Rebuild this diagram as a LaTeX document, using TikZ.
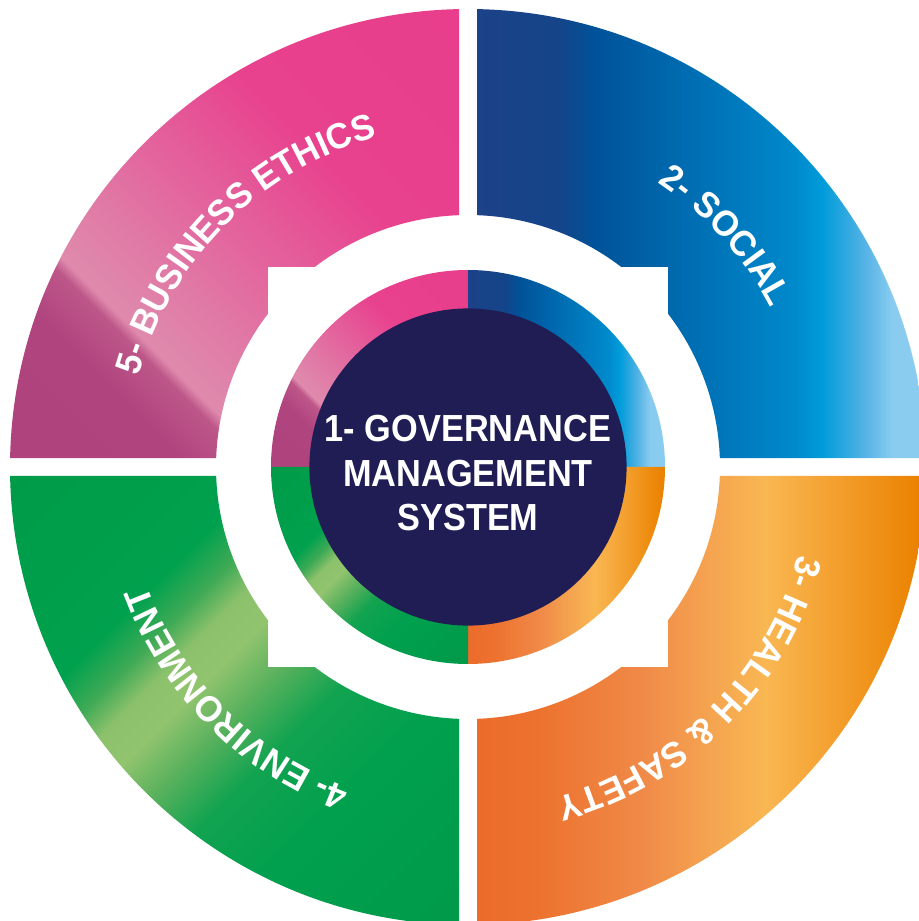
\documentclass[tikz,border=0pt]{standalone}
\usepackage{fontspec}
\setmainfont{Liberation Sans}
\newfontfamily\ringfam[FakeStretch=0.96]{Liberation Sans}
\newfontfamily\centfam[FakeStretch=0.91]{Liberation Sans}
\newcommand\rfont{\ringfam\bfseries\fontsize{10.24}{12}\selectfont}
\newcommand\cfont{\centfam\bfseries\fontsize{10.73}{12}\selectfont}
\usetikzlibrary{decorations.text}

\definecolor{navy}{HTML}{1F1D54}
% pink
\definecolor{pkA}{HTML}{AD417B}
\definecolor{pkB}{HTML}{B0447E}
\definecolor{pkC}{HTML}{BD5689}
\definecolor{pkD}{HTML}{DF8AAD}
\definecolor{pkE}{HTML}{E07BA6}
\definecolor{pkF}{HTML}{E45E9B}
\definecolor{pkG}{HTML}{E8418D}
\definecolor{pkH}{HTML}{E83C8A}
% blue
\definecolor{blA}{HTML}{1C4289}
\definecolor{blB}{HTML}{144489}
\definecolor{blC}{HTML}{005298}
\definecolor{blD}{HTML}{0070B5}
\definecolor{blE}{HTML}{008ACC}
\definecolor{blF}{HTML}{009CDA}
\definecolor{blG}{HTML}{52B2E4}
\definecolor{blH}{HTML}{8ACCF0}
% orange
\definecolor{orA}{HTML}{EC6B2B}
\definecolor{orB}{HTML}{ED722F}
\definecolor{orC}{HTML}{F08A48}
\definecolor{orD}{HTML}{F4A04F}
\definecolor{orE}{HTML}{F9B752}
\definecolor{orF}{HTML}{F4A131}
\definecolor{orG}{HTML}{EA8200}
% green
\definecolor{grA}{HTML}{009746}
\definecolor{grB}{HTML}{009D4A}
\definecolor{grC}{HTML}{00A14E}
\definecolor{grD}{HTML}{40AA56}
\definecolor{grE}{HTML}{8CC16C}
\definecolor{grEE}{HTML}{92C46E}
\definecolor{grF}{HTML}{5AB15D}
\definecolor{grG}{HTML}{12A350}
\definecolor{grH}{HTML}{00A04E}
\definecolor{grI}{HTML}{009446}

\pgfdeclarehorizontalshading{pinkg}{100bp}{color(0bp)=(pkA); color(25bp)=(pkA); color(39.08bp)=(pkB); color(41.7bp)=(pkC); color(42.36bp)=(pkD); color(45.63bp)=(pkE); color(51.09bp)=(pkF); color(56.55bp)=(pkG); color(75bp)=(pkH); color(100bp)=(pkH)}
\pgfdeclarehorizontalshading{blueg}{100bp}{color(0bp)=(blA); color(25bp)=(blA); color(34.24bp)=(blB); color(37.92bp)=(blC); color(49.83bp)=(blD); color(60.5bp)=(blE); color(63.5bp)=(blF); color(68bp)=(blG); color(71.3bp)=(blH); color(100bp)=(blH)}
\pgfdeclarehorizontalshading{orangeg}{100bp}{color(0bp)=(orA); color(25bp)=(orA); color(32bp)=(orB); color(43.5bp)=(orC); color(49.8bp)=(orD); color(57.1bp)=(orE); color(64.3bp)=(orF); color(74.2bp)=(orG); color(100bp)=(orG)}
\pgfdeclarehorizontalshading{greeng}{100bp}{color(0bp)=(grA); color(25bp)=(grA); color(36.35bp)=(grB); color(42.36bp)=(grC); color(44.54bp)=(grD); color(46.18bp)=(grE); color(48.09bp)=(grEE); color(50.55bp)=(grF); color(53.55bp)=(grG); color(58.19bp)=(grH); color(75bp)=(grI); color(100bp)=(grI)}

% outer quadrant (top right), other quadrants by mirroring
\def\qshape{(88.874:458) arc[start angle=88.874, end angle=1.126, radius=458] -- (2.047:252) arc[start angle=2.047, end angle=37.468, radius=252] -- (200,200) -- (52.532:252) arc[start angle=52.532, end angle=87.953, radius=252] -- cycle}
% inner ring quadrant (top right)
\def\rshape{(0,0) -- (197,0) arc[start angle=0, end angle=90, radius=197] -- cycle}

\tikzset{
  ctext/.style={text=white, font=\cfont, inner sep=0pt, anchor=base},
  ringtext/.style={decorate, decoration={text along path, text align=center, text={|\rfont\color{white}|#1}}}
}

\begin{document}
\begin{tikzpicture}[x=0.01cm, y=0.01cm]
\useasboundingbox (-468,-454) rectangle (451,467);
\fill[white] (-468,-454) rectangle (451,467);

% ---- outer quadrants ----
\begin{scope}
  \clip[xscale=-1] \qshape;
  \shade[shading=pinkg, shading angle=45] (-458,-458) rectangle (458,458);
\end{scope}
\begin{scope}
  \clip \qshape;
  \shade[shading=blueg] (9,0) rectangle (458,458);
\end{scope}
\begin{scope}
  \clip[yscale=-1] \qshape;
  \shade[shading=orangeg] (9,-458) rectangle (458,0);
\end{scope}
\begin{scope}
  \clip[scale=-1] \qshape;
  \shade[shading=greeng, shading angle=-45] (-458,-458) rectangle (458,458);
\end{scope}

% ---- inner ring ----
\begin{scope}
  \clip[xscale=-1] \rshape;
  \shade[shading=pinkg, shading angle=45] (-197,-197) rectangle (197,197);
\end{scope}
\begin{scope}
  \clip \rshape;
  \shade[shading=blueg] (0,0) rectangle (197,197);
\end{scope}
\begin{scope}
  \clip[yscale=-1] \rshape;
  \shade[shading=orangeg] (0,-197) rectangle (197,0);
\end{scope}
\begin{scope}
  \clip[scale=-1] \rshape;
  \shade[shading=greeng, shading angle=-45] (-197,-197) rectangle (197,197);
\end{scope}

% ---- centre ----
\node[circle, fill=navy, minimum size=3.17cm, inner sep=0pt] (core) at (0,0) {};
\node[ctext] (g1) at (0,25.3) {1- GOVERNANCE};
\node[ctext] (g2) at (0,-19.7) {MANAGEMENT};
\node[ctext] (g3) at (0,-63.7) {SYSTEM};

% ---- ring labels ----
\path[ringtext={5- BUSINESS ETHICS}] (195:342) arc[start angle=195, end angle=75, radius=342];
\path[ringtext={2- SOCIAL}] (102:342) arc[start angle=102, end angle=-18, radius=342];
\path[ringtext={3- HEALTH {\&} SAFETY}] (15:342) arc[start angle=15, end angle=-105, radius=342];
\path[ringtext={4- ENVIRONMENT}] (285:342) arc[start angle=285, end angle=165, radius=342];
\end{tikzpicture}
\end{document}
